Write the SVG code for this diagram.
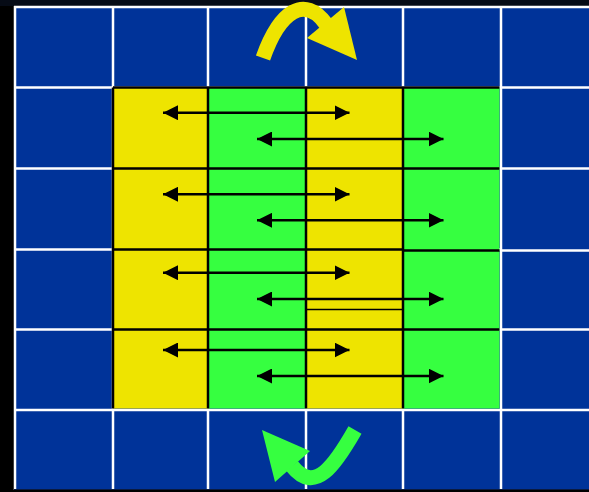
<svg xmlns="http://www.w3.org/2000/svg" width="589" height="492" viewBox="0 0 589 492">
  <defs>
    <style>
      .wl { stroke: #ffffff; stroke-width: 2.5; fill: none; }
      .bl { stroke: #000000; stroke-width: 2.5; fill: none; }
      .yel { fill: #EEE400; }
      .grn { fill: #36FF40; }
      .arr { stroke: #000000; stroke-width: 2.5; fill: none; marker-start: url(#head); marker-end: url(#head); }
    </style>
    <marker id="head" viewBox="0 0 15 15" refX="15" refY="7.5" markerWidth="15" markerHeight="15" markerUnits="userSpaceOnUse" orient="auto-start-reverse">
      <path d="M0,0 L15,7.5 L0,15 z" fill="#000000"/>
    </marker>
  </defs>

  <rect x="0" y="0" width="589" height="492" fill="#000000"/>
  <rect x="0" y="0" width="589" height="6" fill="#060b16"/>

  <g id="outer-grid">
    <rect x="14" y="6" width="575" height="484" fill="#003399"/>
    <path class="wl" d="M15,6 V490 M113,6 V490 M208,6 V490 M306,6 V490 M403,6 V490 M501,6 V490"/>
    <path class="wl" d="M14,7 H589 M14,87.5 H589 M14,168.5 H589 M14,249.5 H501 M501,250.5 H589 M14,329.5 H589 M14,410 H589"/>
    <path d="M14,489.5 H589" stroke="#0a1a40" stroke-width="1"/>
  </g>

  <g id="inner-grid">
    <rect id="col1" class="yel" x="113" y="87.5" width="95" height="321"/>
    <rect id="col2" class="grn" x="208" y="87.5" width="98" height="321"/>
    <rect id="col3" class="yel" x="306" y="87.5" width="97" height="321"/>
    <rect id="col4" class="grn" x="403" y="87.5" width="96.5" height="321"/>
    <path class="bl" d="M113,87.5 V408.5 M208,87.5 V408.5 M306,87.5 V408.5 M403,87.5 V408.5"/>
    <path class="bl" d="M113,87.5 H499.5 M113,168.5 H499.5 M113,249.5 H403 M403,250.5 H499.5 M113,329.5 H499.5"/>
    <path d="M306,309.5 H403" stroke="#000000" stroke-width="1.5"/>
  </g>

  <g id="connectors">
    <line class="arr" x1="163" y1="112.7" x2="349.5" y2="112.7"/>
    <line class="arr" x1="257" y1="139" x2="443.5" y2="139"/>
    <line class="arr" x1="163" y1="194.3" x2="349.5" y2="194.3"/>
    <line class="arr" x1="257" y1="220.3" x2="443.5" y2="220.3"/>
    <line class="arr" x1="163" y1="272.7" x2="349.5" y2="272.7"/>
    <line class="arr" x1="257" y1="299" x2="443.5" y2="299"/>
    <line class="arr" x1="163" y1="350" x2="349.5" y2="350"/>
    <line class="arr" x1="257" y1="376" x2="443.5" y2="376"/>
  </g>

  <g id="yellow-turn-arrow">
    <path d="M263,58 C280,10 305,-5 326,24" stroke="#EEE400" stroke-width="15" fill="none"/>
    <path d="M344,7 L357,60 L307,38 z" fill="#EEE400"/>
  </g>

  <g id="green-turn-arrow">
    <path d="M355,430 C335,465 315,495 292,466" stroke="#36FF40" stroke-width="15" fill="none"/>
    <path d="M262,430 L310,451 L275,482 z" fill="#36FF40"/>
  </g>
</svg>
